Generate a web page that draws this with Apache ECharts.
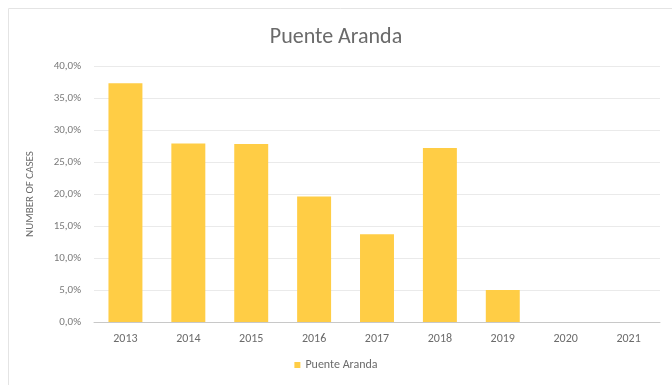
<!DOCTYPE html>
<html>
<head>
<meta charset="utf-8">
<script src="https://cdn.jsdelivr.net/npm/echarts@6/dist/echarts.min.js"></script>
<style>
  html, body { margin: 0; padding: 0; background: #fff; }
  #chart { width: 672px; height: 385px; }
</style>
</head>
<body>
<div id="chart"></div>
<script>
// Share of cases per year, Puente Aranda
const years = ['2013', '2014', '2015', '2016', '2017', '2018', '2019', '2020', '2021'];
const shares = [37.3, 27.9, 27.8, 19.6, 13.7, 27.2, 5.0, 0, 0];
const seriesName = 'Puente Aranda';

const chart = echarts.init(document.getElementById('chart'));
const font = 'Calibri, Carlito, "Open Sans", sans-serif';

chart.setOption({
  animation: false,
  textStyle: { fontFamily: font },
  graphic: [{
    type: 'rect',
    shape: { x: 8.5, y: 8.5, width: 700, height: 400 },
    style: { fill: 'none', stroke: '#e4e4e4', lineWidth: 1 },
    silent: true
  }],
  title: {
    text: seriesName,
    left: 'center',
    top: 21,
    textStyle: { color: '#6a6a6a', fontSize: 22, fontWeight: 'normal', fontFamily: font }
  },
  legend: {
    bottom: 9,
    left: 'center',
    itemWidth: 6,
    itemHeight: 6,
    icon: 'rect',
    itemGap: 4,
    textStyle: { color: '#6b6b6b', fontSize: 12 },
    data: [seriesName]
  },
  grid: { left: 94, right: 12, top: 66, bottom: 63 },
  xAxis: {
    type: 'category',
    data: years,
    axisLine: { lineStyle: { color: '#c8c8c8', width: 1 } },
    axisTick: { show: false },
    axisLabel: { color: '#6b6b6b', fontSize: 12, margin: 11 }
  },
  yAxis: {
    type: 'value',
    min: 0,
    max: 40,
    interval: 5,
    name: 'NUMBER OF CASES',
    nameLocation: 'middle',
    nameGap: 58,
    nameTextStyle: { color: '#6b6b6b', fontSize: 11 },
    axisLine: { show: false },
    axisTick: { show: false },
    splitLine: { lineStyle: { color: '#eaeaea', width: 1 } },
    axisLabel: {
      color: '#7a7a7a',
      fontSize: 11,
      margin: 13,
      formatter: v => v.toFixed(1).replace('.', ',') + '%'
    }
  },
  series: [{
    name: seriesName,
    type: 'bar',
    data: shares,
    barCategoryGap: '46%',
    itemStyle: { color: '#FFCD45' }
  }]
});
</script>
</body>
</html>
